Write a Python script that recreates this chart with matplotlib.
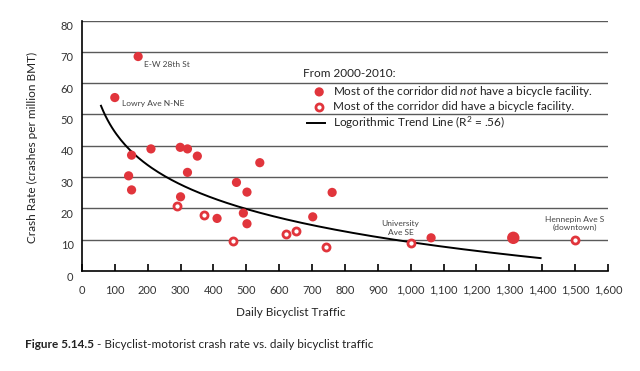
import numpy as np
import matplotlib.pyplot as plt
import matplotlib.transforms as mtransforms

# corridors where most of the corridor had no bicycle facility
filled_x = [171, 100, 151, 210, 299, 321, 351, 142, 321, 151, 300, 411,
            541, 470, 502, 761, 491, 502, 702, 1062]
filled_y = [68.5, 55.4, 37.0, 39.0, 39.5, 39.0, 36.7, 30.4, 31.5, 25.9, 23.7, 16.8,
            34.6, 28.3, 25.2, 25.1, 18.5, 15.1, 17.3, 10.6]
# drawn bigger in the original
big_x = [1312]
big_y = [10.6]
# corridors where most of the corridor had a bicycle facility
hollow_x = [290, 371, 460, 621, 651, 741, 1001, 1500]
hollow_y = [20.8, 18.0, 9.7, 11.8, 12.7, 7.8, 9.0, 9.9]

# logarithmic trend line y = a + b*ln(x), coefficients
trend_a = 114.9
trend_b = -15.3
trend_range = [58, 1395]

labels = ['E-W 28th St', 'Lowry Ave N-NE', 'University\nAve SE', 'Hennepin Ave S\n(downtown)']
label_x = [189, 122, 969, 1500]
label_y = [65.8, 53.4, 13.8, 15.2]

x_ticks = list(range(0, 1700, 100))
y_ticks = list(range(0, 90, 10))

red = '#e1353c'
font = 'Lato'
plt.rcParams['font.family'] = font
plt.rcParams['mathtext.fontset'] = 'custom'
plt.rcParams['mathtext.rm'] = font
plt.rcParams['mathtext.it'] = font + ':italic'

fig = plt.figure(figsize=(6.4, 3.71), dpi=100)
ax = fig.add_axes([0.128, 0.2695, 0.822, 0.6752])

tx = np.linspace(trend_range[0], trend_range[1], 200)
ax.plot(tx, trend_a + trend_b * np.log(tx), color='black', lw=1.4, zorder=3)

ax.scatter(filled_x, filled_y, s=44, color=red, edgecolors='none', zorder=4)
ax.scatter(big_x, big_y, s=80, color=red, edgecolors='none', zorder=4)
ax.scatter(hollow_x, hollow_y, s=26, facecolors='white', edgecolors=red,
           linewidths=2.0, zorder=4)

for txt, lx, ly in zip(labels, label_x, label_y):
    ha = 'left' if '\n' not in txt else 'center'
    ax.text(lx, ly, txt, fontsize=6, color='#444444', ha=ha, va='center',
            linespacing=1.25)

ax.set_xlim(0, 1600)
ax.set_ylim(0, 80)
ax.set_xticks(x_ticks)
ax.set_xticklabels([f'{v:,}' for v in x_ticks])
ax.set_yticks(y_ticks)
for v in y_ticks[1:]:
    ax.axhline(v, color='#5a5a5a', lw=1.0, zorder=1)

ax.spines['top'].set_visible(False)
ax.spines['right'].set_visible(False)
ax.spines['left'].set_linewidth(1.2)
ax.spines['bottom'].set_linewidth(1.2)
ax.tick_params(axis='x', direction='in', length=5, width=1.2, pad=10,
               labelsize=8, labelcolor='#333333')
ax.tick_params(axis='y', length=0, pad=6, labelsize=8, labelcolor='#333333')
shift = mtransforms.ScaledTranslation(0, -0.05, fig.dpi_scale_trans)
for lbl in ax.get_yticklabels():
    lbl.set_transform(lbl.get_transform() + shift)

# legend drawn by hand in axes fractions
ax.text(0.420, 0.79, 'From 2000-2010:', transform=ax.transAxes, fontsize=8.5,
        color='#222222', va='center')
ax.scatter([0.451], [0.715], s=44, color=red, edgecolors='none',
           transform=ax.transAxes, clip_on=False, zorder=4)
ax.scatter([0.451], [0.655], s=26, facecolors='white', edgecolors=red,
           linewidths=2.0, transform=ax.transAxes, clip_on=False, zorder=4)
ax.plot([0.428, 0.462], [0.591, 0.591], color='black', lw=1.4, transform=ax.transAxes)
ax.text(0.477, 0.715, 'Most of the corridor did $\\it{not}$ have a bicycle facility.',
        transform=ax.transAxes, fontsize=8.5, color='#222222', va='center')
ax.text(0.477, 0.655, 'Most of the corridor did have a bicycle facility.',
        transform=ax.transAxes, fontsize=8.5, color='#222222', va='center')
ax.text(0.477, 0.591, 'Logorithmic Trend Line (R$^2$ = .56)',
        transform=ax.transAxes, fontsize=8.5, color='#222222', va='center')

fig.text(291 / 640, 1 - 313 / 371, 'Daily Bicyclist Traffic', fontsize=8.5,
         color='#222222', ha='center', va='center')
fig.text(32 / 640, 1 - 147 / 371, 'Crash Rate (crashes per million BMT)', fontsize=8.5,
         color='#222222', ha='center', va='center', rotation=90)

cap = fig.text(25 / 640, 1 - 345 / 371, 'Figure 5.14.5', fontsize=8.5,
               fontweight='bold', color='#222222', va='center')
ax.annotate(' - Bicyclist-motorist crash rate vs. daily bicyclist traffic',
            xy=(1, 0), xycoords=cap, va='bottom', fontsize=8.5, color='#222222',
            annotation_clip=False)

fig.savefig('out.png', dpi=100)
